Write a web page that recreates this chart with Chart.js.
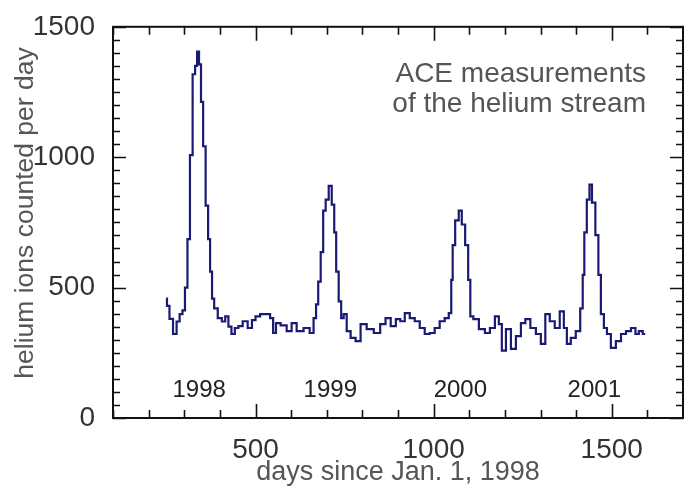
<!DOCTYPE html>
<html>
<head>
<meta charset="utf-8">
<script src="https://cdn.jsdelivr.net/npm/chart.js@4"></script>
<style>
  html, body { margin: 0; padding: 0; background: #fff; }
  #wrap { width: 684px; height: 493px; }
</style>
</head>
<body>
<div id="wrap"><canvas id="heChart" width="684" height="493"></canvas></div>
<script>
// days since Jan. 1, 1998 and helium ion counts
const days = [249, 254, 263, 274, 283, 291, 299, 305, 313, 319, 328, 333, 339, 344, 350, 356, 364, 370, 375, 381, 387,
  401, 410, 420, 428, 437, 447, 457, 471, 485, 495, 505, 521, 535, 547, 552, 563, 578, 597, 606, 625, 645, 659,
  667, 673, 679, 687, 693, 701, 710, 718, 724, 729, 738, 743, 752, 760, 774, 788, 802, 822, 842, 858, 872, 887,
  901, 912, 926, 940, 954, 968, 982, 996, 1010, 1024, 1038, 1047, 1052, 1055, 1066, 1075, 1083, 1094, 1100, 1106,
  1117, 1137, 1151, 1165, 1179, 1187, 1196, 1210, 1224, 1238, 1252, 1263, 1280, 1294, 1308, 1319, 1333, 1347,
  1361, 1370, 1378, 1392, 1406, 1417, 1420, 1426, 1434, 1441, 1448, 1460, 1465, 1474, 1482, 1491, 1504, 1519,
  1533, 1547, 1561, 1572, 1580, 1594];
const counts = [458, 430, 380, 322, 370, 398, 413, 500, 686, 1008, 1318, 1350, 1405, 1356, 1212, 1042, 814, 686, 561, 458, 420,
  383, 370, 390, 350, 322, 345, 352, 371, 345, 375, 390, 398, 398, 383, 326, 364, 355, 333, 364, 333, 345, 326,
  383, 436, 523, 636, 795, 837, 890, 818, 712, 561, 447, 383, 398, 333, 307, 295, 360, 341, 326, 360, 383, 352,
  379, 371, 402, 383, 371, 345, 322, 326, 345, 371, 383, 402, 530, 663, 758, 795, 742, 663, 530, 390,
  379, 341, 326, 345, 390, 360, 258, 341, 265, 314, 364, 379, 345, 322, 284, 398, 371, 345,
  409, 345, 284, 307, 333, 420, 549, 712, 837, 895, 826, 701, 549, 398, 345, 322, 269, 295,
  322, 333, 345, 322, 333, 322];

// labelled ticks
const xTickValues = [500, 1000, 1500];
const yTickValues = [0, 500, 1000, 1500];

// year labels under each peak
const yearLabels = ['1998', '1999', '2000', '2001'];
const yearDays = [342, 710, 1075, 1451];
const yearLabelValue = 106;

const noteLines = ['ACE measurements', 'of the helium stream'];
const yTitle = 'helium ions counted per day';
const xTitle = 'days since Jan. 1, 1998';

const FONT = '"Liberation Sans", Arial, Helvetica, sans-serif';

// frame, inward ticks and the text labels
const framePlugin = {
  id: 'framePlugin',
  afterDraw(chart) {
    const { ctx, chartArea: a, scales: { x, y } } = chart;
    ctx.save();
    ctx.strokeStyle = '#111';
    ctx.lineWidth = 2;
    ctx.strokeRect(a.left, a.top, a.right - a.left, a.bottom - a.top);

    ctx.lineWidth = 1.6;
    ctx.beginPath();
    for (let d = x.min; d <= x.max; d += 100) {
      const px = Math.round(x.getPixelForValue(d)) + 0.5;
      const len = d % 500 === 0 ? 14 : 8;
      ctx.moveTo(px, a.bottom); ctx.lineTo(px, a.bottom - len);
      ctx.moveTo(px, a.top); ctx.lineTo(px, a.top + len);
    }
    for (let v = y.min; v <= y.max; v += 50) {
      const py = Math.round(y.getPixelForValue(v)) + 0.5;
      const len = v % 500 === 0 ? 13 : 7;
      ctx.moveTo(a.left, py); ctx.lineTo(a.left + len, py);
      ctx.moveTo(a.right, py); ctx.lineTo(a.right - len, py);
    }
    ctx.stroke();

    // year labels
    ctx.fillStyle = '#222';
    ctx.font = '24px ' + FONT;
    ctx.textAlign = 'center';
    ctx.textBaseline = 'middle';
    yearLabels.forEach((t, i) => {
      ctx.fillText(t, x.getPixelForValue(yearDays[i]), y.getPixelForValue(yearLabelValue));
    });

    // note in the top right
    ctx.fillStyle = '#555';
    ctx.font = '28px ' + FONT;
    ctx.textAlign = 'right';
    ctx.textBaseline = 'alphabetic';
    ctx.fillText(noteLines[0], 646, 82);
    ctx.fillText(noteLines[1], 646, 112);

    // y axis title
    ctx.save();
    ctx.translate(33, 213);
    ctx.rotate(-Math.PI / 2);
    ctx.textAlign = 'center';
    ctx.font = '26.5px ' + FONT;
    ctx.fillText(yTitle, 0, 0);
    ctx.restore();

    ctx.restore();
  }
};

const ctx = document.getElementById('heChart').getContext('2d');
const heChart = new Chart(ctx, {
  type: 'line',
  data: {
    datasets: [{
      label: 'helium',
      data: days.map((d, i) => ({ x: d, y: counts[i] })),
      borderColor: '#1a1a72',
      borderWidth: 2.2,
      pointRadius: 0,
      stepped: 'middle',
      fill: false
    }]
  },
  options: {
    responsive: false,
    animation: false,
    devicePixelRatio: 1,
    layout: { padding: { top: 22, right: 1, left: 0, bottom: 0 } },
    plugins: { legend: { display: false }, tooltip: { enabled: false } },
    scales: {
      x: {
        type: 'linear',
        min: 100,
        max: 1700,
        afterBuildTicks(scale) { scale.ticks = xTickValues.map(v => ({ value: v })); },
        afterFit(scale) { scale.height = 75; },
        grid: { display: false },
        border: { display: false },
        ticks: {
          autoSkip: false,
          maxRotation: 0,
          padding: 7,
          color: '#333',
          font: { family: FONT, size: 28 },
          callback: v => String(v)
        },
        title: {
          display: true,
          text: xTitle,
          color: '#555',
          font: { family: FONT, size: 27 },
          padding: { top: 0, bottom: 4 }
        }
      },
      y: {
        min: 0,
        max: 1500,
        afterBuildTicks(scale) { scale.ticks = yTickValues.map(v => ({ value: v })); },
        afterFit(scale) { scale.width = 113; },
        grid: { display: false },
        border: { display: false },
        ticks: {
          autoSkip: false,
          padding: 10,
          color: '#333',
          font: { family: FONT, size: 28 },
          callback: v => String(v)
        }
      }
    }
  },
  plugins: [framePlugin]
});
</script>
</body>
</html>
